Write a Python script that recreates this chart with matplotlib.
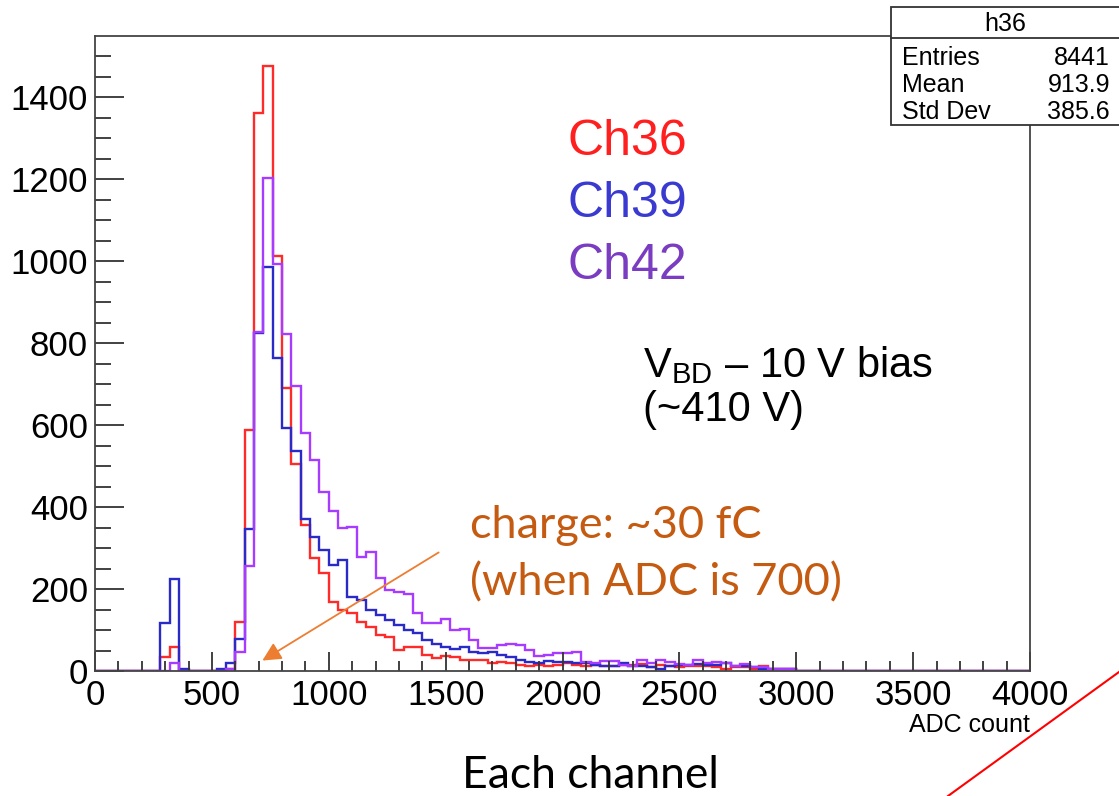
import numpy as np
import matplotlib.pyplot as plt
from matplotlib.patches import Rectangle, FancyArrowPatch
from matplotlib.lines import Line2D

plt.rcParams['font.family'] = ['Liberation Sans', 'DejaVu Sans']
plt.rcParams['mathtext.fontset'] = 'custom'
plt.rcParams['mathtext.rm'] = 'Liberation Sans'

# histogram binning (ADC count), 100 bins of 40 from 0 to 4000
bin_edges = np.arange(0, 4001, 40)

# bin contents from 280 to 3000 (bins 7..74), zeros elsewhere
ch36 = [0] * 7 + [
    33, 58, 0, 0, 0, 0, 1, 5, 120, 588,
    1360, 1475, 1013, 690, 504, 356, 275, 238, 169, 149,
    141, 120, 108, 88, 82, 51, 59, 59, 39, 31,
    37, 35, 27, 28, 27, 19, 23, 19, 15, 11,
    15, 12, 14, 19, 15, 12, 15, 12, 12, 15,
    15, 16, 9, 15, 11, 9, 11, 11, 12, 9,
    6, 9, 9, 4, 12, 6, 6, 5] + [0] * 25
ch39 = [0] * 7 + [
    116, 224, 5, 0, 0, 0, 4, 20, 77, 347,
    825, 985, 764, 592, 537, 372, 327, 296, 259, 271,
    181, 173, 149, 137, 124, 112, 100, 92, 76, 67,
    59, 53, 59, 47, 43, 47, 39, 35, 27, 23,
    19, 24, 22, 23, 20, 20, 15, 12, 12, 19,
    12, 12, 10, 4, 12, 15, 15, 17, 14, 14,
    19, 12, 12, 9, 6, 6, 4, 6] + [0] * 25
ch42 = [0] * 7 + [
    0, 20, 0, 0, 0, 0, 0, 6, 47, 257,
    826, 1202, 993, 822, 696, 580, 515, 437, 390, 348,
    351, 278, 290, 226, 198, 193, 189, 141, 116, 116,
    128, 100, 102, 76, 55, 56, 63, 65, 63, 52,
    36, 38, 43, 43, 46, 21, 19, 24, 24, 15,
    12, 27, 20, 27, 21, 17, 15, 27, 19, 23,
    20, 12, 16, 9, 9, 6, 4, 4] + [0] * 25

series = [ch36, ch39, ch42]
line_colors = ['#ff2a2a', '#2a2ac8', '#a63cff']
labels = ['Ch36', 'Ch39', 'Ch42']
label_colors = ['#ff1f1f', '#3a3ad0', '#7a3cc0']

stats_name = 'h36'
stats_rows = [('Entries', '8441'), ('Mean', '913.9'), ('Std Dev', '385.6')]

W, H = 1119, 796
fig = plt.figure(figsize=(W / 100, H / 100), dpi=100)
ax = fig.add_axes([95 / W, 1 - 671 / H, 935 / W, 635 / H])

for vals, col in zip(series, line_colors):
    ax.stairs(vals, bin_edges, color=col, lw=1.7)

ax.set_xlim(0, 4000)
ax.set_ylim(0, 1549)
ax.set_xticks(np.arange(0, 4001, 500))
ax.set_xticks(np.arange(0, 4001, 100), minor=True)
ax.set_yticks(np.arange(0, 1401, 200))
ax.set_yticks(np.arange(0, 1549, 50), minor=True)
ax.tick_params(axis='both', which='both', direction='in', color='#333333',
               width=1.3, labelsize=25, top=False, right=False)
ax.tick_params(axis='x', which='major', length=14, pad=6)
ax.tick_params(axis='x', which='minor', length=7)
ax.tick_params(axis='y', which='major', length=21, pad=5)
ax.tick_params(axis='y', which='minor', length=11.5)
for sp in ax.spines.values():
    sp.set_color('#444444')
    sp.set_linewidth(1.3)

ax.text(1.0, -0.085, 'ADC count', transform=ax.transAxes, ha='right',
        va='center', fontsize=18)

# channel labels
for i, (lab, col) in enumerate(zip(labels, label_colors)):
    fig.text(568 / W, 1 - (142 + 62 * i) / H, lab, color=col, fontsize=36,
             va='center', ha='left')

fig.text(643 / W, 1 - 365 / H, r'V$\mathregular{_{BD}}$ – 10 V bias',
         fontsize=30, va='center', ha='left')
fig.text(643 / W, 1 - 410 / H, '(~410 V)', fontsize=30, va='center', ha='left')

orange = '#c55a11'
fig.text(470 / W, 1 - 525 / H, 'charge: ~30 fC', color=orange, fontsize=32.5,
         family='Lato', va='center', ha='left')
fig.text(470 / W, 1 - 583 / H, '(when ADC is 700)', color=orange, fontsize=32.5,
         family='Lato', va='center', ha='left')

arrow = FancyArrowPatch((441 / W, 1 - 551 / H), (260 / W, 1 - 662 / H),
                        transform=fig.transFigure, arrowstyle='-|>',
                        mutation_scale=28, color='#ed7d31', lw=1.3)
fig.patches.append(arrow)

fig.text(590 / W, 1 - 775 / H, 'Each channel', fontsize=32, family='Lato',
         va='center', ha='center')

# stats box
box = Rectangle((891 / W, 1 - 125 / H), 240 / W, 118 / H,
                transform=fig.transFigure, facecolor='white',
                edgecolor='#333333', lw=1.3, clip_on=False)
fig.patches.append(box)
fig.lines.append(Line2D([891 / W, 1], [1 - 38 / H] * 2,
                        transform=fig.transFigure, color='#333333', lw=1.3))
fig.text(1005 / W, 1 - 24 / H, stats_name, fontsize=18, ha='center', va='center')
for i, (k, v) in enumerate(stats_rows):
    y = 1 - (58 + 27 * i) / H
    fig.text(902 / W, y, k, fontsize=18, ha='left', va='center')
    fig.text(1110 / W, y, v, fontsize=18, ha='right', va='center')

# slide decoration line
fig.lines.append(Line2D([948 / W, 1], [0, 1 - 672 / H],
                        transform=fig.transFigure, color='#ff0000', lw=1.5))

fig.savefig('out.png', dpi=100)
